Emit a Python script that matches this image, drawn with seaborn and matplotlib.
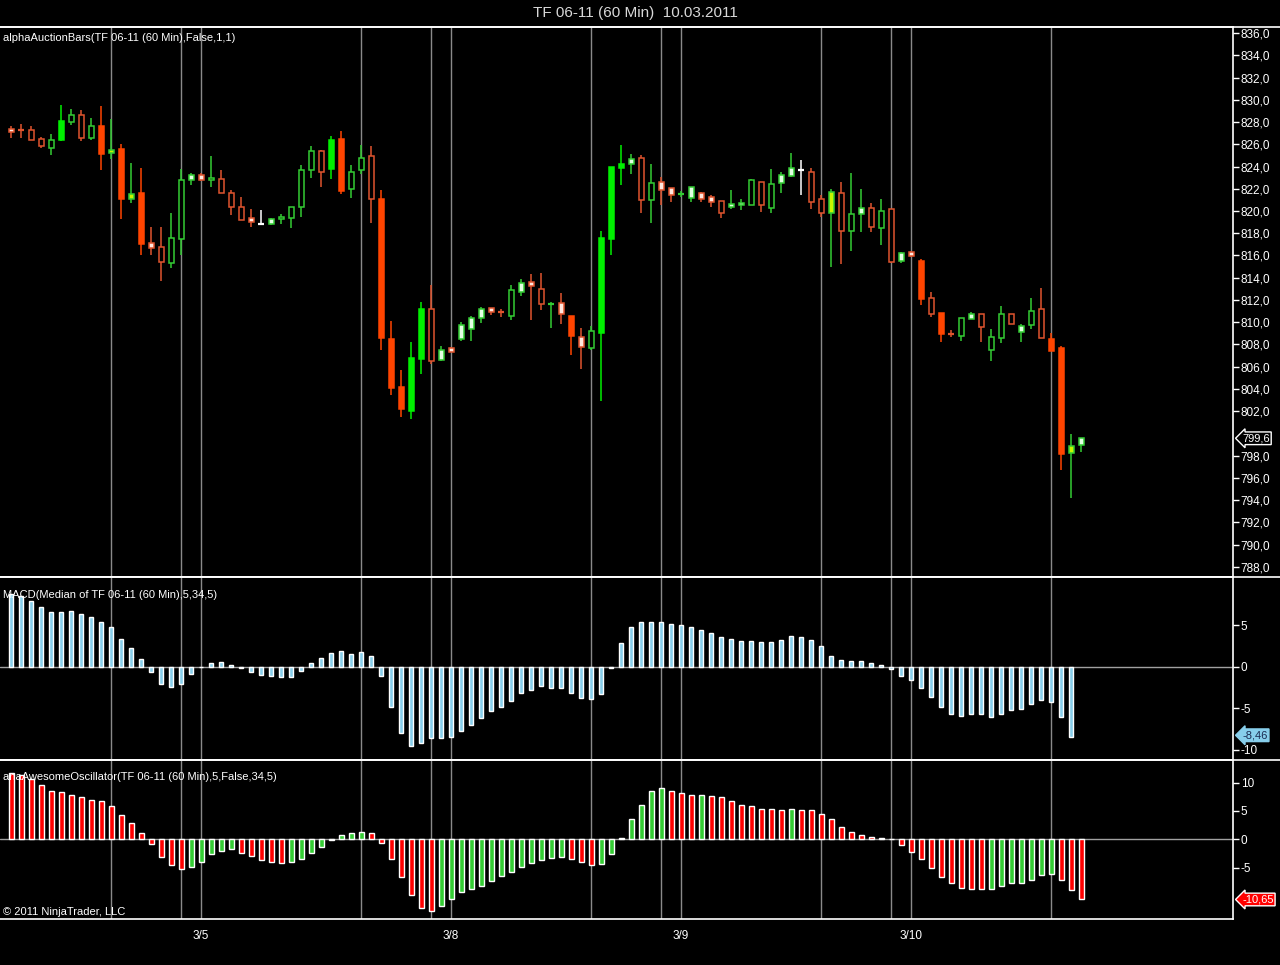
import numpy as np
import pandas as pd
import matplotlib
matplotlib.use("Agg")
import matplotlib.pyplot as plt
import matplotlib.transforms as mtransforms
from matplotlib.lines import Line2D
from matplotlib.ticker import FuncFormatter
import seaborn as sns

# ---------------- data ----------------
opens = [827.4, 827.35, 827.25, 826.5, 825.7, 826.4, 828.0, 828.6, 826.6, 827.6,
         825.2, 825.55, 821.05, 821.6, 817.1, 816.8, 815.3, 817.5, 822.8, 823.2,
         822.8, 822.85, 821.6, 820.4, 819.4, 818.85, 818.8, 819.3, 819.35, 820.4,
         823.7, 825.4, 823.8, 826.5, 822.0, 823.7, 824.9, 821.05, 808.45, 804.2,
         802.05, 806.7, 811.2, 806.6, 807.66, 808.5, 809.4, 810.35, 811.25, 811.0,
         810.6, 812.75, 813.6, 812.96, 811.6, 811.73, 810.56, 808.64, 807.68, 809.06,
         817.5, 823.9, 824.2, 824.73, 821.0, 822.6, 822.04, 821.5, 821.2, 821.6,
         821.23, 820.87, 820.4, 820.5, 820.57, 822.6, 820.3, 822.5, 823.14, 823.74,
         823.5, 821.05, 819.8, 821.6, 818.23, 819.7, 820.24, 818.5, 820.15, 815.5,
         816.3, 815.5, 812.15, 810.8, 808.95, 808.8, 810.3, 810.7, 807.48, 808.6,
         810.7, 809.1, 809.73, 811.16, 808.5, 807.66, 798.22, 798.94]
highs = [827.6, 827.8, 827.6, 826.65, 826.95, 829.5, 829.2, 829.1, 828.4, 829.4,
         828.3, 826.0, 824.35, 823.9, 818.6, 818.6, 819.8, 823.75, 823.4, 823.4,
         824.9, 823.7, 821.9, 821.3, 820.2, 820.1, 819.4, 819.75, 820.4, 824.1,
         825.8, 825.5, 826.7, 827.2, 824.1, 825.9, 825.8, 821.9, 810.1, 805.7,
         808.2, 811.8, 813.35, 807.9, 807.8, 810.0, 810.6, 811.4, 811.25, 811.15,
         813.35, 813.85, 814.3, 814.4, 811.85, 812.6, 810.6, 809.45, 809.66, 818.2,
         824.0, 825.9, 825.1, 825.0, 824.2, 823.1, 822.04, 821.8, 822.2, 821.7,
         821.44, 820.87, 821.9, 821.1, 822.9, 822.6, 823.8, 823.5, 825.2, 824.6,
         823.9, 821.45, 822.0, 822.6, 823.44, 822.0, 820.75, 821.08, 820.2, 816.35,
         816.4, 815.66, 812.75, 810.8, 809.3, 810.36, 810.9, 810.7, 809.37, 811.46,
         810.7, 809.8, 812.2, 813.05, 809.07, 807.9, 799.93, 799.57]
lows = [826.6, 826.6, 826.4, 825.7, 825.0, 826.3, 827.7, 826.3, 826.4, 823.7,
        824.7, 819.3, 820.7, 816.0, 816.0, 813.7, 814.9, 816.05, 822.3, 822.7,
        822.2, 821.6, 819.6, 819.2, 818.6, 818.7, 818.7, 818.8, 818.5, 819.5,
        823.0, 822.2, 822.9, 821.5, 821.2, 823.3, 818.9, 807.5, 803.5, 801.45,
        801.3, 805.35, 806.25, 806.5, 807.3, 808.35, 808.35, 809.9, 810.65, 810.5,
        810.2, 812.4, 810.2, 811.1, 809.5, 809.85, 807.1, 805.8, 807.5, 802.9,
        816.07, 822.3, 823.3, 819.85, 818.95, 820.5, 820.8, 821.25, 820.8, 820.8,
        820.4, 819.4, 820.2, 820.1, 820.5, 819.9, 819.85, 821.6, 823.1, 821.4,
        820.2, 819.45, 815.0, 815.2, 816.4, 818.14, 818.14, 816.94, 815.3, 815.36,
        815.9, 811.55, 810.5, 808.25, 808.7, 808.35, 810.3, 808.25, 806.55, 808.17,
        809.8, 808.25, 809.37, 808.56, 807.45, 796.7, 794.17, 798.37]
closes = [827.1, 827.25, 826.4, 825.8, 826.4, 828.1, 828.6, 826.6, 827.6, 825.1,
          825.5, 821.1, 821.5, 817.0, 816.7, 815.4, 817.6, 822.8, 823.2, 822.8,
          823.0, 821.65, 820.4, 819.2, 819.0, 818.8, 819.3, 819.5, 820.4, 823.7,
          825.4, 823.5, 826.4, 821.8, 823.5, 824.8, 821.05, 808.55, 804.1, 802.2,
          806.8, 811.2, 806.55, 807.5, 807.36, 809.75, 810.4, 811.2, 810.95, 810.9,
          812.87, 813.5, 813.3, 811.6, 811.7, 810.77, 808.76, 807.75, 809.18, 817.6,
          823.95, 824.2, 824.7, 821.0, 822.5, 821.92, 821.47, 821.6, 822.2, 821.1,
          820.84, 819.85, 820.6, 820.75, 822.8, 820.5, 822.4, 823.2, 823.83, 823.7,
          820.84, 819.8, 821.7, 818.23, 819.7, 820.24, 818.6, 820.0, 815.4, 816.2,
          815.96, 812.12, 810.75, 808.9, 808.85, 810.36, 810.7, 809.55, 808.65, 810.7,
          809.8, 809.7, 811.05, 808.56, 807.45, 798.2, 798.88, 799.57]
# candle paint style (R solid down, r hollow down, G solid up, g hollow up,
# w white body / red edge, v white body / green edge, y yellow body, W white doji)
styles = list("wrrrgGgrgR" "yRyRwrggvw" "grrrwWvggg" "grGRggrRRR" "GGrvwvvvwr"
              "gvwrgwRwgG" "GGvrgwwgvw" "wrvvgrgvvW" "rryrgvrgrv" "wRrRrgvrgg"
              "rvgrRRyv")

macd = [8.8, 8.55, 7.95, 7.23, 6.63, 6.63, 6.75, 6.39, 6.02, 5.42,
        4.82, 3.37, 2.29, 0.96, -0.68, -2.13, -2.49, -2.05, -0.92, 0.0,
        0.48, 0.6, 0.24, -0.2, -0.68, -1.04, -1.16, -1.29, -1.29, -0.56,
        0.48, 1.08, 1.69, 1.93, 1.57, 1.81, 1.33, -1.16, -4.9, -8.03,
        -9.6, -9.24, -8.63, -8.63, -8.51, -7.79, -7.07, -6.22, -5.38, -4.9,
        -4.18, -3.21, -2.85, -2.37, -2.61, -2.61, -3.21, -3.82, -3.94, -3.33,
        -0.2, 2.89, 4.82, 5.42, 5.42, 5.42, 5.18, 5.06, 4.82, 4.46,
        4.1, 3.61, 3.37, 3.13, 3.13, 3.01, 3.01, 3.25, 3.73, 3.61,
        3.25, 2.53, 1.33, 0.84, 0.72, 0.72, 0.48, 0.24, -0.32, -1.16,
        -1.65, -2.61, -3.69, -4.9, -5.74, -5.98, -5.74, -5.74, -6.1, -5.74,
        -5.26, -5.14, -4.54, -4.06, -4.3, -6.1, -8.46]

ao = [11.7, 11.4, 10.7, 9.5, 8.6, 8.3, 7.9, 7.4, 7.0, 6.7,
      5.8, 4.3, 2.9, 1.1, -0.8, -3.1, -4.5, -5.2, -4.9, -4.0,
      -2.7, -2.0, -1.8, -2.4, -2.9, -3.6, -4.0, -4.2, -4.0, -3.5,
      -2.4, -1.3, -0.2, 0.8, 1.1, 1.3, 1.1, -0.6, -3.5, -6.7,
      -9.9, -12.2, -12.6, -11.8, -10.6, -9.3, -8.8, -8.3, -7.4, -6.5,
      -5.8, -4.9, -4.2, -3.6, -3.3, -3.1, -3.5, -4.0, -4.5, -4.3,
      -2.6, 0.2, 3.5, 6.1, 8.5, 9.0, 8.5, 8.1, 7.9, 7.9,
      7.7, 7.4, 6.8, 6.1, 5.8, 5.4, 5.4, 5.2, 5.4, 5.2,
      5.1, 4.5, 3.5, 2.2, 1.3, 0.8, 0.4, 0.2, 0.05, -1.1,
      -2.2, -3.5, -5.1, -6.7, -7.7, -8.6, -8.8, -8.8, -8.8, -8.3,
      -7.7, -7.7, -7.2, -6.3, -6.1, -7.2, -9.0, -10.65]
ao_dir = list("RRRRRRRRRR" "RRRRRRRRGG" "GGGRRRRRGG" "GGGGGGRRRR" "RRRGGGGGGG"
              "GGGGGGRRRG" "GGGGGGRRRG" "RRRRRRRRGR" "RRRRRRRRRR" "RRRRRRRRGG"
              "GGGGGRRR")

session_bars = [10, 17, 19, 35, 42, 44, 58, 65, 67, 81, 88, 90, 104]
date_bars = [19, 44, 67, 90]
date_labels = ["3/5", "3/8", "3/9", "3/10"]
price_ticks = [788, 790, 792, 794, 796, 798, 802, 804, 806, 808, 810, 812, 814,
               816, 818, 820, 822, 824, 826, 828, 830, 832, 834, 836]
macd_ticks = [-10, -5, 0, 5]
ao_ticks = [-5, 0, 5, 10]

# ---------------- style ----------------
sns.set_style("dark", {"axes.facecolor": "black", "figure.facecolor": "black"})
plt.rcParams["font.family"] = ["Liberation Sans Narrow", "Liberation Sans", "DejaVu Sans"]

ORANGE = "#FF4500"
HOLLOW_RED = "#E0542E"
GREEN_SOLID = "#00F000"
GREEN_LINE = "#33CC33"
STYLE = {
    "R": (ORANGE, ORANGE),
    "r": ("black", HOLLOW_RED),
    "G": (GREEN_SOLID, GREEN_SOLID),
    "g": ("black", GREEN_LINE),
    "w": ("#FFE8E0", HOLLOW_RED),
    "v": ("#E4FFE4", GREEN_LINE),
    "y": ("#C8F500", GREEN_LINE),
    "W": ("white", "white"),
}
GRID = "#8a8a8a"

fig = plt.figure(figsize=(12.8, 9.65), dpi=100, facecolor="black")
H = 965.0
W_AX = 1233 / 1280


def pane(top_px, bot_px):
    return fig.add_axes([0, 1 - bot_px / H, W_AX, (bot_px - top_px) / H])


ax1 = pane(27, 577)
ax2 = pane(577, 760)
ax3 = pane(760, 919)

n = len(opens)
xlim = (-1.1, 122.2)

for ax in (ax1, ax2, ax3):
    ax.set_facecolor("black")
    ax.grid(False)
    for b in session_bars:
        ax.axvline(b, color=GRID, lw=1, zorder=1)
    ax.spines["left"].set_visible(False)
    for s in ("top", "right", "bottom"):
        ax.spines[s].set_color("white")
        ax.spines[s].set_linewidth(1.2)

# ---------------- candles ----------------
for i in range(n):
    o, h, l, c = opens[i], highs[i], lows[i], closes[i]
    face, edge = STYLE[styles[i]]
    ax1.vlines(i, l, h, color=edge, lw=1.1, zorder=2)
    if abs(c - o) < 0.12:
        ax1.hlines((o + c) / 2, i - 0.3, i + 0.3, color=edge, lw=1.6, zorder=3)
    else:
        ax1.bar(i, abs(c - o), bottom=min(o, c), width=0.5, color=face,
                edgecolor=edge, linewidth=1.1, zorder=3)

ax1.set_xlim(*xlim)
ax1.set_ylim(787.1, 836.54)
ax1.set_xticks([])
ax1.yaxis.tick_right()
ax1.set_yticks(price_ticks)
ax1.yaxis.set_major_formatter(FuncFormatter(lambda v, p: f"{v:.1f}".replace(".", ",")))

# ---------------- MACD ----------------
dm = pd.DataFrame({"bar": np.arange(len(macd)), "macd": macd})
sns.barplot(data=dm, x="bar", y="macd", native_scale=True, color="#87CEEB",
            saturation=1, width=0.45, errorbar=None, ax=ax2, zorder=3)
ax2.axhline(0, color="#a0a0a0", lw=1, zorder=2)
ax2.set_xlim(*xlim)
ax2.set_ylim(-11.24, 10.8)
ax2.set_xticks([])
ax2.yaxis.tick_right()
ax2.set_yticks(macd_ticks)
ax2.set_yticklabels([str(t) for t in macd_ticks])

# ---------------- Awesome oscillator ----------------
da = pd.DataFrame({"bar": np.arange(len(ao)), "ao": ao, "dir": ao_dir})
sns.barplot(data=da, x="bar", y="ao", hue="dir", native_scale=True,
            palette={"R": "#FF0000", "G": "#33CC33"}, saturation=1, dodge=False,
            width=0.5, errorbar=None, legend=False, ax=ax3, zorder=3)
ax3.axhline(0, color="#a0a0a0", lw=1, zorder=2)
ax3.set_xlim(*xlim)
ax3.set_ylim(-14.1, 14.0)
ax3.yaxis.tick_right()
ax3.set_yticks(ao_ticks)
ax3.set_yticklabels([str(t) for t in ao_ticks])
ax3.set_xticks(date_bars)
ax3.set_xticklabels(date_labels)

for ax in (ax1, ax2, ax3):
    ax.set_xlabel("")
    ax.set_ylabel("")
    ax.tick_params(axis="y", colors="white", direction="out", length=4, width=1,
                   labelsize=8.5, pad=1.5, labelcolor="white")
ax3.tick_params(axis="x", colors="white", direction="out", length=4, width=1,
                labelsize=8.5, pad=4, labelcolor="white")

# ---------------- labels ----------------
txt = dict(color="white", fontsize=8, ha="left", va="center")
ax1.text(3 / 1233, 1 - (38 - 27) / 550, "alphaAuctionBars(TF 06-11 (60 Min),False,1,1)",
         transform=ax1.transAxes, zorder=5, **txt)
ax2.text(3 / 1233, 1 - (595 - 577) / 183, "MACD(Median of TF 06-11 (60 Min),5,34,5)",
         transform=ax2.transAxes, zorder=5, **txt)
ax3.text(3 / 1233, 1 - (777 - 760) / 159, "anaAwesomeOscillator(TF 06-11 (60 Min),5,False,34,5)",
         transform=ax3.transAxes, zorder=5, **txt)
ax3.text(3 / 1233, 1 - (912 - 760) / 159, "\u00a9 2011 NinjaTrader, LLC",
         transform=ax3.transAxes, zorder=5, **txt)

fig.text(635 / 1280, 1 - 13 / H, "TF 06-11 (60 Min)  10.03.2011", color="#d8d8d8",
         fontsize=11, ha="center", va="center")

# separators spanning full width
for ypx in (27, 577, 760):
    fig.add_artist(Line2D([0, 1], [1 - ypx / H] * 2, color="white", lw=1.2))


def last_label(ax, val, text, fc, ec, tc):
    tr = mtransforms.blended_transform_factory(ax.transAxes, ax.transData)
    ax.text(1.0075, val, text, transform=tr, ha="left", va="center", fontsize=8,
            color=tc, clip_on=False, zorder=6,
            bbox=dict(boxstyle="larrow,pad=0.12", fc=fc, ec=ec, lw=1))


last_label(ax1, closes[-1], f"{closes[-1]:.1f}".replace(".", ","), "black", "white", "white")
last_label(ax2, macd[-1] + 0.2, f"{macd[-1]:.2f}".replace(".", ","), "#87CEEB", "#87CEEB", "#1a2a50")
last_label(ax3, ao[-1], f"{ao[-1]:.2f}".replace(".", ","), "#FF0000", "white", "white")

fig.savefig("out.png", dpi=100, facecolor="black")
